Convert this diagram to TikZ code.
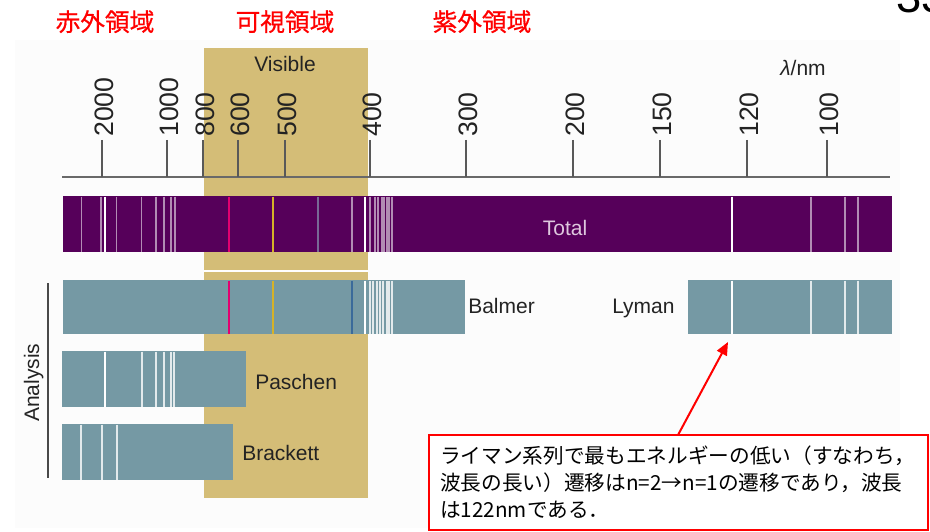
\documentclass[tikz,border=0pt]{standalone}
\usepackage{fontspec}
\setmainfont{Liberation Sans}
\newfontfamily\jp{Noto Sans CJK JP}
\newfontfamily\jph[FakeBold=0.6]{Noto Sans CJK JP}
\usetikzlibrary{arrows.meta}
\newdimen\upx \upx=0.75pt
\definecolor{visband}{RGB}{212,189,119}
\definecolor{totalc}{RGB}{86,0,90}
\definecolor{serc}{RGB}{117,153,164}
\definecolor{hred}{RGB}{226,0,112}
\definecolor{hyel}{RGB}{214,178,40}
\definecolor{hblu}{RGB}{58,106,154}
\definecolor{hgry}{RGB}{120,105,150}
\definecolor{axisc}{RGB}{105,105,105}
\definecolor{panel}{RGB}{252,252,252}
\definecolor{txt}{RGB}{35,35,35}
\definecolor{totaltxt}{RGB}{222,200,222}
\begin{document}
\begin{tikzpicture}[x=0.75pt,y=-0.75pt,
  bar/.style={draw=none,inner sep=0pt,outer sep=0pt,anchor=north west},
  lab/.style={font=\fontsize{15.75}{18}\selectfont,text=txt,inner sep=0pt,anchor=base west},
  ticklab/.style={font=\fontsize{20}{24}\selectfont,text=txt,inner sep=0pt,rotate=90,anchor=west},
  tickln/.style={draw=axisc!85!black,line width=1.4\upx},
  hdr/.style={font=\jph\fontsize{18.5}{22}\selectfont,text=red,inner sep=0pt,anchor=base},
  notetxt/.style={font=\jp\fontsize{15.5}{20}\selectfont,text=black,inner sep=0pt,anchor=base west},
  wl/.style={draw=white,line width=1.8\upx},
  tl/.style={draw=white,draw opacity=0.55,line width=1.3\upx},
  sl/.style={draw=white,draw opacity=0.8,line width=1.3\upx},
  redarrow/.style={draw=red,line width=1.5pt,-{Triangle[length=9.75pt,width=8.25pt]}}]
\useasboundingbox (0,0) rectangle (930,531);
\clip (0,0) rectangle (930,531);
% background panel
\fill[panel] (15,40) rectangle (900,528);
% visible band
\fill[visband] (204,48) rectangle (368,498);
\draw[white,line width=1.2\upx] (204,271) -- (368,271);
\node[font=\fontsize{15.75}{18}\selectfont,text=txt,inner sep=0pt,anchor=base] (vis) at (285,72) {Visible};
% headers
\node[hdr] (ir) at (105,31) {赤外領域};
\node[hdr] (vr) at (285,31) {可視領域};
\node[hdr] (uv) at (482,31) {紫外領域};
\node[font=\fontsize{34}{40}\selectfont,inner sep=0pt,anchor=base west] (pg) at (896,12.5) {33};
% axis
\draw[axisc,line width=2\upx] (62,177) -- (890,177);
\foreach \x/\t in {102/2000,167/1000,203/800,238/600,285/500,370/400,466/300,573/200,660/150,747/120,827/100}{
  \draw[tickln] (\x,140) -- (\x,177);
  \node[ticklab] (t\t) at (\x+2,137) {\t};
}
\node[lab,anchor=base] (unit) at (803,76) {{\itshape λ}/nm};
% Total bar
\node[bar,fill=totalc,minimum width=829\upx,minimum height=56\upx] (total) at (63,196) {};
\foreach \x in {81.7,101,116.7,141.7,156,164,171,175,352,370,375,378,382,384,387,389,392,811,845,858}
  \draw[tl] (\x,196.5) -- (\x,251.5);
\foreach \x in {105,365,732}
  \draw[wl] (\x,196.5) -- (\x,251.5);
\draw[hred,line width=1.8\upx] (229,196.5) -- (229,251.5);
\draw[hyel,line width=1.8\upx] (273,196.5) -- (273,251.5);
\draw[hgry,line width=1.5\upx] (318,196.5) -- (318,251.5);
\node[font=\fontsize{15.75}{18}\selectfont,text=totaltxt,inner sep=0pt,anchor=base] (totlab) at (565,235.5) {Total};
% Balmer
\node[bar,fill=serc,minimum width=402\upx,minimum height=54\upx] (balmer) at (63,280) {};
\draw[hred,line width=1.8\upx] (229,280.5) -- (229,333.5);
\draw[hyel,line width=1.8\upx] (273,280.5) -- (273,333.5);
\draw[hblu,line width=1.8\upx] (352,280.5) -- (352,333.5);
\draw[wl] (365,280.5) -- (365,333.5);
\foreach \x in {370,373,377,380,383,387,389,392}
  \draw[sl] (\x,280.5) -- (\x,333.5);
\node[lab] (balmerlab) at (468,313.5) {Balmer};
% Lyman
\node[bar,fill=serc,minimum width=204\upx,minimum height=54\upx] (lyman) at (688,280) {};
\draw[wl] (732,280.5) -- (732,333.5);
\foreach \x in {811,845,858}
  \draw[sl] (\x,280.5) -- (\x,333.5);
\node[lab] (lymanlab) at (612,313.5) {Lyman};
% Paschen
\node[bar,fill=serc,minimum width=184\upx,minimum height=56\upx] (paschen) at (62,351) {};
\draw[wl] (105,351.5) -- (105,406.5);
\foreach \x in {142,156,164,171,174}
  \draw[sl] (\x,351.5) -- (\x,406.5);
\node[lab] (paschenlab) at (255,389.5) {Paschen};
% Brackett
\node[bar,fill=serc,minimum width=171\upx,minimum height=56\upx] (brackett) at (62,424) {};
\foreach \x in {81,102,117}
  \draw[sl] (\x,424.5) -- (\x,479.5);
\node[lab] (brackettlab) at (242,460.5) {Brackett};
% Analysis
\draw[axisc!70!black,line width=1.3\upx] (48,283) -- (48,478);
\node[font=\fontsize{15.75}{18}\selectfont,text=txt,inner sep=0pt,rotate=90,anchor=base west] (analysis) at (39,422) {Analysis};
% callout
\node[bar,draw=red,fill=white,line width=2\upx,minimum width=499\upx,minimum height=95\upx] (note) at (429,435) {};
\node[notetxt] (n1) at (440,463) {ライマン系列で最もエネルギーの低い（すなわち，};
\node[notetxt] (n2) at (440,490) {波長の長い）遷移はn=2→n=1の遷移であり，波長};
\node[notetxt] (n3) at (440,517) {は122nmである．};
\coordinate (tail) at (678,435);
\coordinate (tip) at (728,342);
\draw[redarrow] (tail) -- (tip);
\end{tikzpicture}
\end{document}
